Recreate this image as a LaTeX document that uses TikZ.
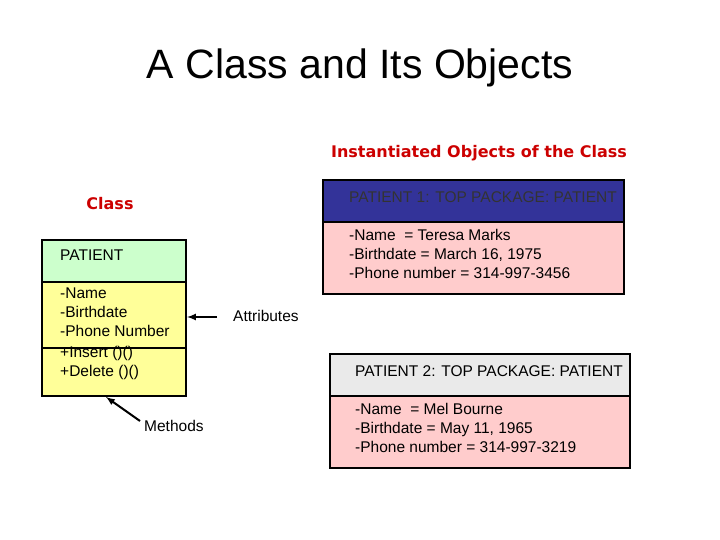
\documentclass[tikz,border=0pt]{standalone}
\usepackage{fontspec}
\setmainfont{Liberation Sans}
\newfontfamily\hd{DejaVu Sans}
\definecolor{hdred}{RGB}{204,0,0}
\definecolor{navy}{RGB}{51,51,153}
\definecolor{pinkf}{RGB}{255,204,204}
\definecolor{greenf}{RGB}{204,255,204}
\definecolor{yellowf}{RGB}{255,255,153}
\definecolor{grayf}{RGB}{234,234,234}
\begin{document}
\begin{tikzpicture}[x=1pt,y=-1pt,
  box/.style={draw=black,line width=2pt},
  txt/.style={font=\fontsize{15.5}{19}\selectfont,align=left,anchor=north west,inner sep=0pt},
  red/.style={font=\hd\bfseries\fontsize{16}{19}\selectfont,text=hdred},
  arr/.style={-latex,line width=2pt}]
\useasboundingbox (0,0) rectangle (720,540);
\node (title) at (360,68) {\fontsize{41}{46}\selectfont A Class and Its Objects};
\node[red] (inst) at (479,153) {Instantiated Objects of the Class};
\node[red] (cls) at (110,204) {Class};
% class box
\filldraw[box,fill=greenf] (42,240) rectangle (186,282);
\filldraw[box,fill=yellowf] (42,282) rectangle (186,348);
\filldraw[box,fill=yellowf] (42,348) rectangle (186,396);
\coordinate (cright) at (187,317);
\coordinate (cbot) at (106,397);
\node[txt] (cname) at (60,250) {PATIENT};
\node[txt] (cattr) at (60,288) {-Name\\-Birthdate\\-Phone Number};
\node[txt] (cmeth) at (60,346) {+Insert ()()\\+Delete ()()};
\node[txt,anchor=west] (attrl) at (233,316) {Attributes};
\node[txt,anchor=west] (methl) at (144,426) {Methods};
\coordinate (as) at (217,317);
\coordinate (ms) at (140,421);
\draw[arr] (as) -- (cright);
\draw[arr] (ms) -- (cbot);
% object 1
\filldraw[box,fill=navy] (323,180) rectangle (624,222);
\filldraw[box,fill=pinkf] (323,222) rectangle (624,294);
\node[txt,text=black!80] (o1h) at (349,191) {PATIENT 1: TOP PACKAGE: PATIENT};
\node[txt] (o1a) at (349,229) {-Name \ = Teresa Marks\\-Birthdate = March 16, 1975\\-Phone number = 314-997-3456};
% object 2
\filldraw[box,fill=grayf] (330,354) rectangle (630,396);
\filldraw[box,fill=pinkf] (330,396) rectangle (630,468);
\node[txt] (o2h) at (355,365) {PATIENT 2: TOP PACKAGE: PATIENT};
\node[txt] (o2a) at (355,403) {-Name \ = Mel Bourne\\-Birthdate = May 11, 1965\\-Phone number = 314-997-3219};
\end{tikzpicture}
\end{document}
